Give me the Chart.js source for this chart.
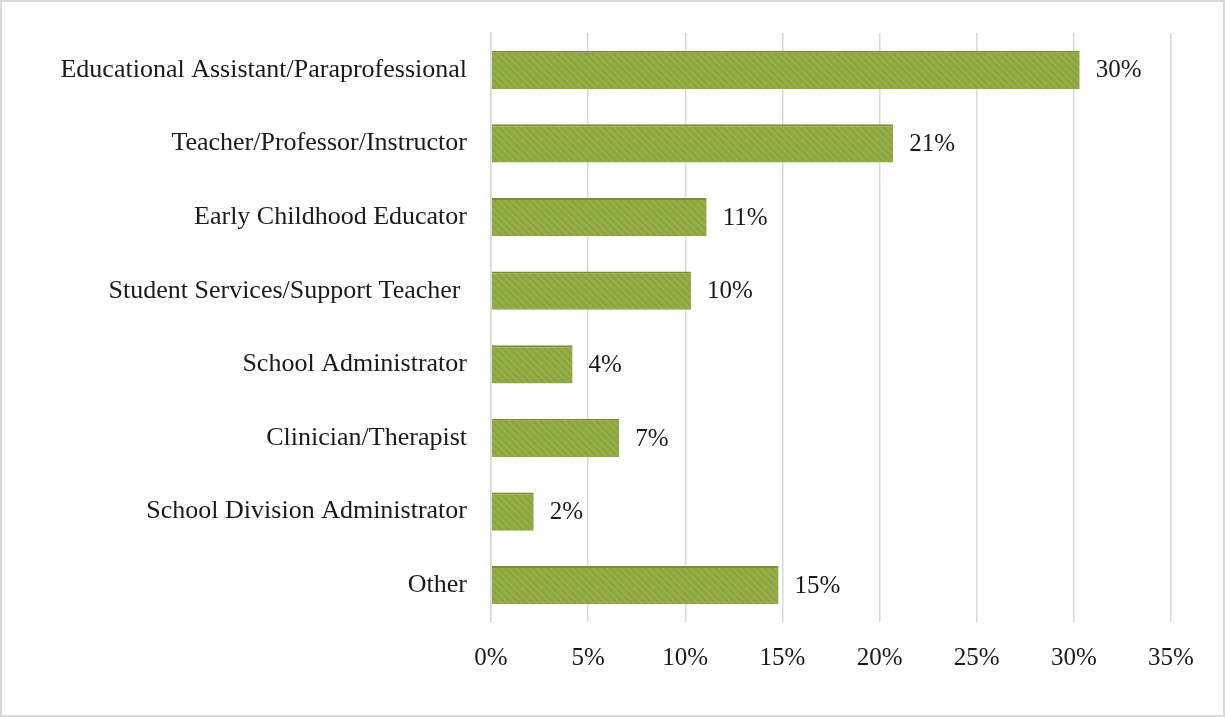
<!DOCTYPE html>
<html>
<head>
<meta charset="utf-8">
<script src="https://cdn.jsdelivr.net/npm/chart.js@4/dist/chart.umd.min.js"></script>
<style>
  html, body { margin: 0; padding: 0; background: #fff; }
  #wrap { width: 1225px; height: 717px; position: relative; }
</style>
</head>
<body>
<div id="wrap"><canvas id="chart" width="1225" height="717"></canvas></div>
<script>
const categories = [
  'Educational Assistant/Paraprofessional',
  'Teacher/Professor/Instructor',
  'Early Childhood Educator',
  'Student Services/Support Teacher ',
  'School Administrator',
  'Clinician/Therapist',
  'School Division Administrator',
  'Other',
];
const shares = [30.3, 20.7, 11.1, 10.3, 4.2, 6.6, 2.2, 14.8];
const xTicks = [0, 5, 10, 15, 20, 25, 30, 35];

const FONT = '"Liberation Serif", "Times New Roman", serif';

// soft diagonal stripes, like the office texture fill
function makeHatch() {
  const c = document.createElement('canvas');
  c.width = 7; c.height = 7;
  const g = c.getContext('2d');
  g.fillStyle = '#95ae49';
  g.fillRect(0, 0, 7, 7);
  g.strokeStyle = '#8ba43f';
  g.lineWidth = 2.5;
  g.beginPath();
  for (let k = -7; k <= 7; k += 7) {
    g.moveTo(k, 0);
    g.lineTo(k + 7, 7);
  }
  g.stroke();
  return g.createPattern(c, 'repeat');
}

const frame = {
  id: 'frame',
  afterDraw(chart) {
    const ctx = chart.ctx;
    ctx.save();
    ctx.strokeStyle = '#d9d9d9';
    ctx.lineWidth = 2;
    ctx.strokeRect(1, 1, chart.width - 2, chart.height - 2);
    ctx.restore();
  },
};

const valueLabels = {
  id: 'valueLabels',
  afterDatasetsDraw(chart) {
    const ctx = chart.ctx;
    const meta = chart.getDatasetMeta(0);
    ctx.save();
    ctx.font = '25px ' + FONT;
    ctx.fillStyle = '#1a1a1a';
    ctx.textAlign = 'left';
    ctx.textBaseline = 'middle';
    meta.data.forEach((bar, i) => {
      ctx.fillText(Math.round(shares[i]) + '%', bar.x + 16, bar.y + 1);
    });
    ctx.restore();
  },
};

new Chart(document.getElementById('chart'), {
  type: 'bar',
  data: {
    labels: categories,
    datasets: [{
      data: shares,
      backgroundColor: makeHatch(),
      borderColor: '#7a8f33',
      borderWidth: { top: 2, right: 0, bottom: 0, left: 0 },
      borderSkipped: false,
      barPercentage: 0.52,
      categoryPercentage: 1,
    }],
  },
  options: {
    indexAxis: 'y',
    responsive: false,
    animation: false,
    layout: { padding: { top: 33, right: 54, bottom: 0, left: 0 } },
    plugins: {
      legend: { display: false },
      tooltip: { enabled: false },
    },
    scales: {
      x: {
        min: 0,
        max: 35,
        afterBuildTicks(scale) {
          scale.ticks = xTicks.map((v) => ({ value: v }));
        },
        afterFit(scale) { scale.height = 95; },
        grid: { color: '#d9d9d9', lineWidth: 1.5, drawTicks: false },
        border: { display: false },
        ticks: {
          color: '#1a1a1a',
          font: { family: FONT, size: 25 },
          padding: 21,
          callback: (v) => v + '%',
        },
      },
      y: {
        afterFit(scale) {
          scale.width = 491;
          scale.paddingTop = 0;
          scale.paddingBottom = 0;
        },
        grid: { display: false, drawTicks: false },
        border: { display: true, color: '#d9d9d9', width: 1.5 },
        ticks: {
          color: '#1a1a1a',
          font: { family: FONT, size: 26 },
          padding: 24,
        },
      },
    },
  },
  plugins: [valueLabels, frame],
});
</script>
</body>
</html>
